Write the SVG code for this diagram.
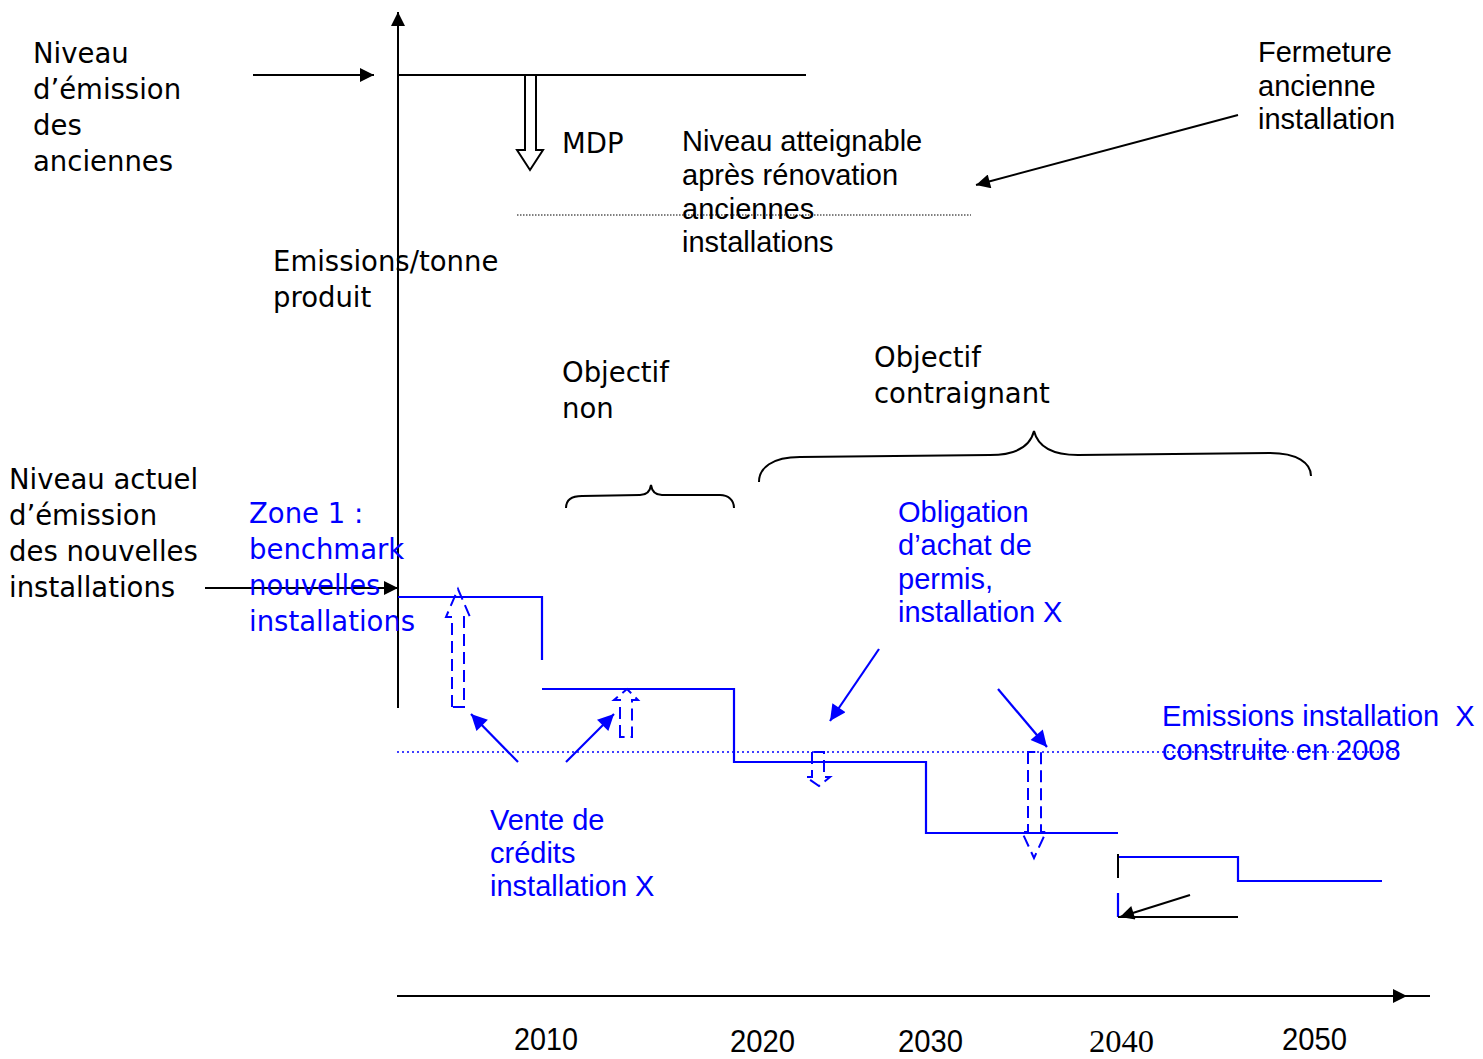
<svg xmlns="http://www.w3.org/2000/svg" width="1483" height="1059" viewBox="0 0 1483 1059">
<defs>
<style>
.g{font-family:"DejaVu Sans","Liberation Sans",sans-serif;font-size:27.5px;fill:#000}
.a{font-family:"Liberation Sans",Arial,sans-serif;font-size:29px;fill:#000}
.b{fill:#0000ff}
.k{stroke:#000;stroke-width:2;fill:none}
.bl{stroke:#0000ff;stroke-width:2.2;fill:none}
.dash{stroke:#0000ff;stroke-width:2;fill:none;stroke-dasharray:12,6}
.yr{font-family:"Liberation Sans",Arial,sans-serif;font-size:31px;fill:#000}
</style>
<marker id="ahk" viewBox="0 0 10 10" refX="10" refY="5" markerWidth="16" markerHeight="14" markerUnits="userSpaceOnUse" orient="auto"><path d="M0,0 L10,5 L0,10 z" fill="#000"/></marker>
<marker id="ahb" viewBox="0 0 10 10" refX="10" refY="5" markerWidth="18" markerHeight="16" markerUnits="userSpaceOnUse" orient="auto"><path d="M0,0 L10,5 L0,10 z" fill="#0000ff"/></marker>
</defs>
<rect width="1483" height="1059" fill="#fff"/>

<g id="axes">
<line class="k" x1="398" y1="708" x2="398" y2="12" marker-end="url(#ahk)"/>
<line class="k" x1="397" y1="996" x2="1430" y2="996"/>
<line class="k" x1="1285" y1="996" x2="1407" y2="996" marker-end="url(#ahk)"/>
</g>

<g id="connectors">
<line class="k" x1="398" y1="75" x2="806" y2="75"/>
<line class="k" x1="253" y1="75" x2="374" y2="75" marker-end="url(#ahk)"/>
<path class="k" d="M525,75 V150 H517 L530,170 L543,150 H536 V75 z" stroke-width="1.6"/>
<line x1="517" y1="215" x2="971" y2="215" stroke="#000" stroke-width="1" stroke-dasharray="1.5,1.5"/>
<line class="k" x1="1238" y1="115" x2="976" y2="185" marker-end="url(#ahk)"/>
<line class="k" x1="205" y1="588" x2="398" y2="588" marker-end="url(#ahk)"/>
<path class="k" d="M566,508 C566,500 572,496 582,496 L640,495 C646,495 650,492 651,485 C652,492 656,495 662,495 L720,495 C728,495 734,500 734,508"/>
<path class="k" d="M759,482 C759,468 772,457 800,457 L990,455 C1015,455 1030,447 1034,431 C1038,447 1053,455 1078,455 L1270,453 C1297,453 1311,463 1311,476"/>
<line x1="397" y1="752" x2="1400" y2="752" stroke="#0000ff" stroke-width="1.5" stroke-dasharray="2,3"/>
<polyline class="bl" points="398,597 542,597 542,660"/>
<polyline class="bl" points="542,689 734,689 734,762 926,762 926,833 1118,833"/>
<polyline class="bl" points="1118,857 1238,857 1238,881 1382,881"/>
<line class="k" x1="1118" y1="854" x2="1118" y2="878"/>
<line class="bl" x1="1118" y1="893" x2="1118" y2="917"/>
<line class="k" x1="1118" y1="917" x2="1238" y2="917"/>
<line class="k" x1="1190" y1="895" x2="1120" y2="917" marker-end="url(#ahk)"/>
<path class="dash" d="M452,707 V617 H446 L458,589 L470,617 H464 V707 z"/>
<path class="dash" d="M620,737 V700 H614 L627,689 L638,700 H632 V737 z" stroke-dasharray="8,5"/>
<path class="dash" d="M812,752 V777 H806 L819,786 L830,777 H824 V752 z" stroke-dasharray="8,5"/>
<path class="dash" d="M1028,752 V832 H1022 L1034,858 L1046,832 H1041 V752 z"/>
<line class="bl" x1="518" y1="762" x2="471" y2="714" marker-end="url(#ahb)"/>
<line class="bl" x1="566" y1="762" x2="614" y2="714" marker-end="url(#ahb)"/>
<line class="bl" x1="879" y1="649" x2="830" y2="721" marker-end="url(#ahb)"/>
<line class="bl" x1="998" y1="689" x2="1047" y2="747" marker-end="url(#ahb)"/>
</g>

<g id="label-anciennes">
<text class="g" x="33" y="63">Niveau</text>
<text class="g" x="33" y="99">d’émission</text>
<text class="g" x="33" y="135">des</text>
<text class="g" x="33" y="171">anciennes</text>
</g>
<g id="label-mdp"><text class="g" x="562" y="153">MDP</text></g>
<g id="label-atteignable">
<text class="a" x="682" y="151">Niveau atteignable</text>
<text class="a" x="682" y="185">après rénovation</text>
<text class="a" x="682" y="219">anciennes</text>
<text class="a" x="682" y="252">installations</text>
</g>
<g id="label-fermeture">
<text class="a" x="1258" y="62">Fermeture</text>
<text class="a" x="1258" y="96">ancienne</text>
<text class="a" x="1258" y="129">installation</text>
</g>
<g id="label-axis">
<text class="g" x="273" y="271">Emissions/tonne</text>
<text class="g" x="273" y="307">produit</text>
</g>
<g id="label-objectif-non">
<text class="g" x="562" y="382">Objectif</text>
<text class="g" x="562" y="418">non</text>
</g>
<g id="label-objectif-contraignant">
<text class="g" x="874" y="367">Objectif</text>
<text class="g" x="874" y="403">contraignant</text>
</g>
<g id="label-nouvelles">
<text class="g" x="9" y="489">Niveau actuel</text>
<text class="g" x="9" y="525">d’émission</text>
<text class="g" x="9" y="561">des nouvelles</text>
<text class="g" x="9" y="597">installations</text>
</g>
<g id="label-zone1">
<text class="g b" x="249" y="523">Zone 1 :</text>
<text class="g b" x="249" y="559">benchmark</text>
<text class="g b" x="249" y="595">nouvelles</text>
<text class="g b" x="249" y="631">installations</text>
</g>
<g id="label-obligation">
<text class="a b" x="898" y="522">Obligation</text>
<text class="a b" x="898" y="555">d’achat de</text>
<text class="a b" x="898" y="589">permis,</text>
<text class="a b" x="898" y="622">installation X</text>
</g>
<g id="label-emissions-x">
<text class="a b" x="1162" y="726" xml:space="preserve">Emissions installation  X</text>
<text class="a b" x="1162" y="760">construite en 2008</text>
</g>
<g id="label-vente">
<text class="a b" x="490" y="830">Vente de</text>
<text class="a b" x="490" y="863">crédits</text>
<text class="a b" x="490" y="896">installation X</text>
</g>
<g id="years">
<text class="yr" x="514" y="1050" textLength="64" lengthAdjust="spacingAndGlyphs">2010</text>
<text class="yr" x="730" y="1052" textLength="65" lengthAdjust="spacingAndGlyphs">2020</text>
<text class="yr" x="898" y="1052" textLength="65" lengthAdjust="spacingAndGlyphs">2030</text>
<text x="1089" y="1052" font-family="Liberation Serif,serif" font-size="31" textLength="65" lengthAdjust="spacingAndGlyphs">2040</text>
<text class="yr" x="1282" y="1050" textLength="65" lengthAdjust="spacingAndGlyphs">2050</text>
</g>
</svg>
